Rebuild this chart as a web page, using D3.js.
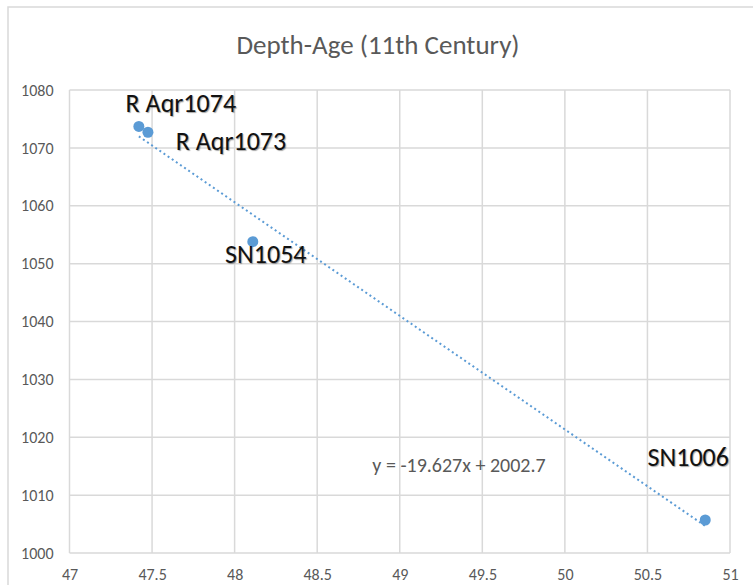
<!DOCTYPE html>
<html>
<head>
<meta charset="utf-8">
<script src="https://cdn.jsdelivr.net/npm/d3@7"></script>
<style>
  body { margin: 0; background: #fff; }
  svg { font-family: Carlito, Calibri, Lato, sans-serif; }
  .lbl { text-shadow: 1px 1px 1px rgba(0,0,0,0.35); }
</style>
</head>
<body>
<script>
// data
var names = ["R Aqr1074", "R Aqr1073", "SN1054", "SN1006"];
var depth = [47.42, 47.475, 48.11, 50.85];
var age = [1073.7, 1072.7, 1053.8, 1005.7];
var xTicks = [47, 47.5, 48, 48.5, 49, 49.5, 50, 50.5, 51];
var yTicks = [1000, 1010, 1020, 1030, 1040, 1050, 1060, 1070, 1080];
var slope = -19.627, intercept = 2002.7;
// label nudges (dx, dy) from each point
var labelOffsets = [[42, -23], [83, 9], [13, 12], [-17, -63]];

var width = 753, height = 585;
var svg = d3.select("body").append("svg")
  .attr("width", width)
  .attr("height", height);

// chart frame (cut off on right / bottom like the screenshot)
svg.append("rect")
  .attr("x", 8).attr("y", 7)
  .attr("width", 800).attr("height", 700)
  .style("fill", "#fff")
  .style("stroke", "#d9d9d9")
  .style("stroke-width", 1.5);

var x = d3.scaleLinear().domain([47, 51]).range([69.5, 730]);
var y = d3.scaleLinear().domain([1000, 1080]).range([553, 90]);

svg.append("text")
  .attr("x", 378).attr("y", 54)
  .attr("text-anchor", "middle")
  .style("font-size", "27px")
  .style("fill", "#595959")
  .text("Depth-Age (11th Century)");

// grid
svg.append("g").selectAll("line")
  .data(xTicks)
  .enter().append("line")
  .attr("x1", function(d) { return x(d); })
  .attr("x2", function(d) { return x(d); })
  .attr("y1", y(1000)).attr("y2", y(1080))
  .style("stroke", "#d9d9d9")
  .style("stroke-width", 1.5);

svg.append("g").selectAll("line")
  .data(yTicks)
  .enter().append("line")
  .attr("x1", x(47)).attr("x2", x(51))
  .attr("y1", function(d) { return y(d); })
  .attr("y2", function(d) { return y(d); })
  .style("stroke", "#d9d9d9")
  .style("stroke-width", 1.5);

// axes (labels only)
var xAxis = svg.append("g")
  .attr("transform", "translate(0," + y(1000) + ")")
  .call(d3.axisBottom(x).tickValues(xTicks).tickSize(0).tickPadding(16)
    .tickFormat(function(d) { return d; }));
var yAxis = svg.append("g")
  .attr("transform", "translate(" + x(47) + ",0)")
  .call(d3.axisLeft(y).tickValues(yTicks).tickSize(0).tickPadding(16)
    .tickFormat(function(d) { return d; }));
[xAxis, yAxis].forEach(function(a) {
  a.select(".domain").remove();
  a.selectAll("text")
    .style("font-size", "16px")
    .style("font-family", "Carlito, Calibri, Lato, sans-serif")
    .style("fill", "#595959");
});

// trendline
var x0 = d3.min(depth), x1 = d3.max(depth);
svg.append("line")
  .attr("x1", x(x0)).attr("y1", y(slope * x0 + intercept))
  .attr("x2", x(x1)).attr("y2", y(slope * x1 + intercept))
  .style("stroke", "#5b9bd5")
  .style("stroke-width", 2)
  .style("stroke-dasharray", "2,3");

// points
svg.append("g").selectAll("circle")
  .data(depth)
  .enter().append("circle")
  .attr("cx", function(d) { return x(d); })
  .attr("cy", function(d, i) { return y(age[i]); })
  .attr("r", 5.5)
  .style("fill", "#5b9bd5");

// data labels
svg.append("g").selectAll("text")
  .data(names)
  .enter().append("text")
  .attr("class", "lbl")
  .attr("x", function(d, i) { return x(depth[i]) + labelOffsets[i][0]; })
  .attr("y", function(d, i) { return y(age[i]) + labelOffsets[i][1]; })
  .attr("text-anchor", "middle")
  .attr("dominant-baseline", "central")
  .style("font-size", "26px")
  .style("fill", "#111")
  .text(function(d) { return d; });

svg.append("text")
  .attr("x", 459).attr("y", 465)
  .attr("text-anchor", "middle")
  .attr("dominant-baseline", "central")
  .style("font-size", "20px")
  .style("fill", "#595959")
  .text("y = -19.627x + 2002.7");
</script>
</body>
</html>
